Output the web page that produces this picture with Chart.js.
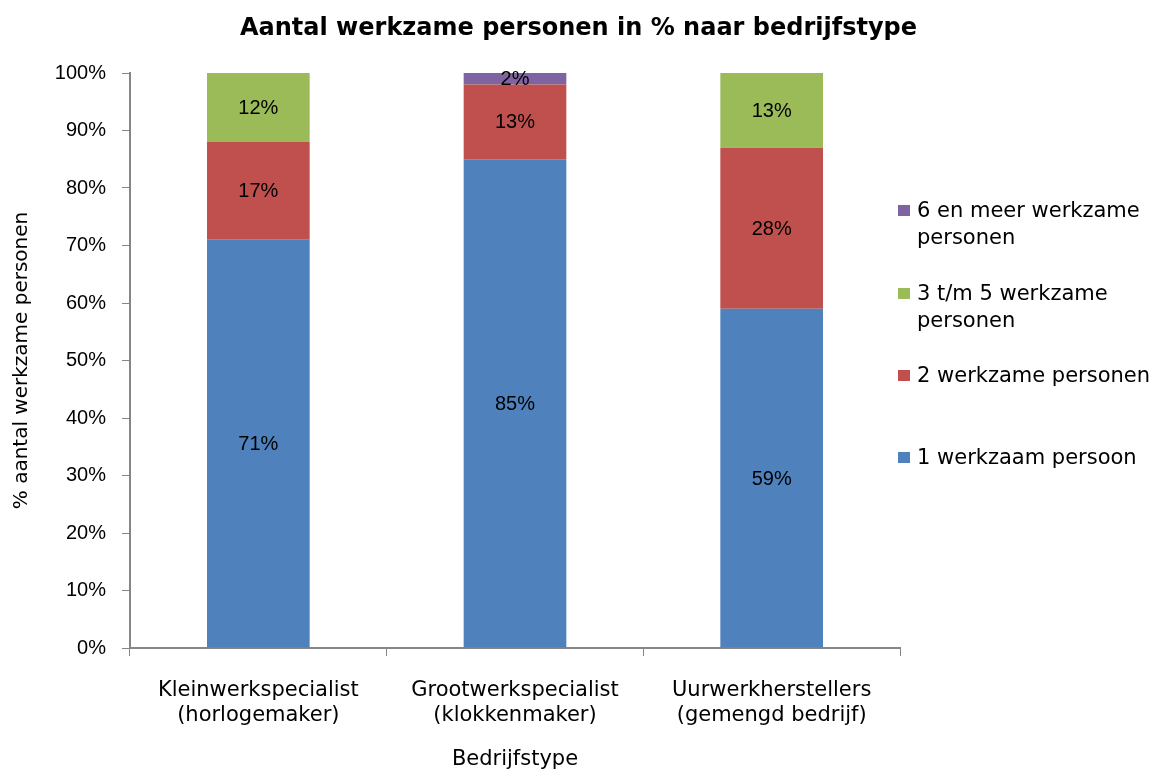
<!DOCTYPE html>
<html>
<head>
<meta charset="utf-8">
<script src="https://cdn.jsdelivr.net/npm/chart.js@4"></script>
<style>
  body { margin: 0; background: #fff; }
  #wrap { position: relative; width: 1157px; height: 772px; }
  #title { position: absolute; left: 0; top: 12px; width: 1157px; text-align: center; font-family: "DejaVu Sans", sans-serif; font-weight: bold; font-size: 24px; line-height: 30px; color: #000; }
  #legend { position: absolute; left: 898px; top: 0; font-family: "DejaVu Sans", sans-serif; font-size: 21px; color: #000; }
  .item { position: absolute; left: 0; width: 259px; line-height: 27px; padding-left: 19px; white-space: nowrap; }
  .box { position: absolute; left: 0; top: 8px; width: 12px; height: 11px; }
</style>
</head>
<body>
<div id="wrap">
  <canvas id="myChart" width="1157" height="772"></canvas>
  <div id="title">Aantal werkzame personen in % naar bedrijfstype</div>
  <div id="legend"></div>
</div>
<script>
const categories = [
  ["Kleinwerkspecialist", "(horlogemaker)"],
  ["Grootwerkspecialist", "(klokkenmaker)"],
  ["Uurwerkherstellers", "(gemengd bedrijf)"]
]
const een = [71, 85, 59]
const twee = [17, 13, 28]
const drieTotVijf = [12, 0, 13]
const zesEnMeer = [0, 2, 0]

const seriesNames = ["1 werkzaam persoon", "2 werkzame personen", "3 t/m 5 werkzame personen", "6 en meer werkzame personen"]
const colors = ['#4F81BD', '#C0504D', '#9BBB59', '#8064A2']

// waarden in de balken
const valueLabels = {
  id: 'valueLabels',
  afterDatasetsDraw(chart) {
    const ctx = chart.ctx
    ctx.save()
    ctx.font = '20px "Liberation Sans Narrow", "Liberation Sans", sans-serif'
    ctx.fillStyle = '#000'
    ctx.textAlign = 'center'
    ctx.textBaseline = 'middle'
    chart.data.datasets.forEach((ds, i) => {
      chart.getDatasetMeta(i).data.forEach((bar, j) => {
        if (!ds.data[j]) return
        ctx.fillText(ds.data[j] + '%', bar.x, (bar.y + bar.base) / 2 + 1)
      })
    })
    ctx.restore()
  }
}

const ctx = document.getElementById('myChart');
const chart = new Chart(ctx, {
  type: 'bar',
  data: {
    labels: categories,
    datasets: [een, twee, drieTotVijf, zesEnMeer].map((d, i) => ({
      label: seriesNames[i],
      data: d,
      backgroundColor: colors[i],
      barPercentage: 0.4,
      categoryPercentage: 1
    }))
  },
  options: {
    responsive: false,
    animation: false,
    layout: { padding: { left: 0, right: 257, top: 73, bottom: 0 } },
    plugins: {
      legend: { display: false },
      tooltip: { enabled: false }
    },
    scales: {
      x: {
        stacked: true,
        offset: true,
        afterFit(scale) { scale.height = 124 },
        grid: { offset: true, drawOnChartArea: false, tickLength: 8, color: '#868686' },
        border: { color: '#868686', width: 2 },
        ticks: { color: '#000', padding: 22, font: { family: 'DejaVu Sans', size: 21, lineHeight: 1.2 } },
        title: {
          display: true, text: 'Bedrijfstype', color: '#000',
          font: { family: 'DejaVu Sans', size: 21 }, padding: { top: 0, bottom: 0 }
        }
      },
      y: {
        stacked: true,
        min: 0,
        max: 100,
        afterFit(scale) { scale.width = 130 },
        grid: { drawOnChartArea: false, tickLength: 8, color: '#868686' },
        border: { color: '#868686', width: 2 },
        ticks: {
          stepSize: 10, color: '#000', padding: 16,
          font: { family: 'Liberation Sans', size: 20 },
          callback: v => v + '%'
        },
        title: {
          display: true, text: '% aantal werkzame personen', color: '#000',
          font: { family: 'DejaVu Sans', size: 20 }, padding: { top: 10, bottom: 0 }
        }
      }
    }
  },
  plugins: [valueLabels]
});

// legenda in omgekeerde volgorde, zoals in het origineel
const legendPos = [444, 362, 280, 197]
const legend = document.getElementById('legend')
chart.data.datasets.forEach((ds, i) => {
  const item = document.createElement('div')
  item.className = 'item'
  item.style.top = legendPos[i] + 'px'
  let text = ds.label
  if (i >= 2) text = text.replace(' werkzame personen', ' werkzame<br>personen')
  item.innerHTML = '<span class="box" style="background:' + ds.backgroundColor + '"></span>' + text
  legend.appendChild(item)
})
</script>
</body>
</html>
